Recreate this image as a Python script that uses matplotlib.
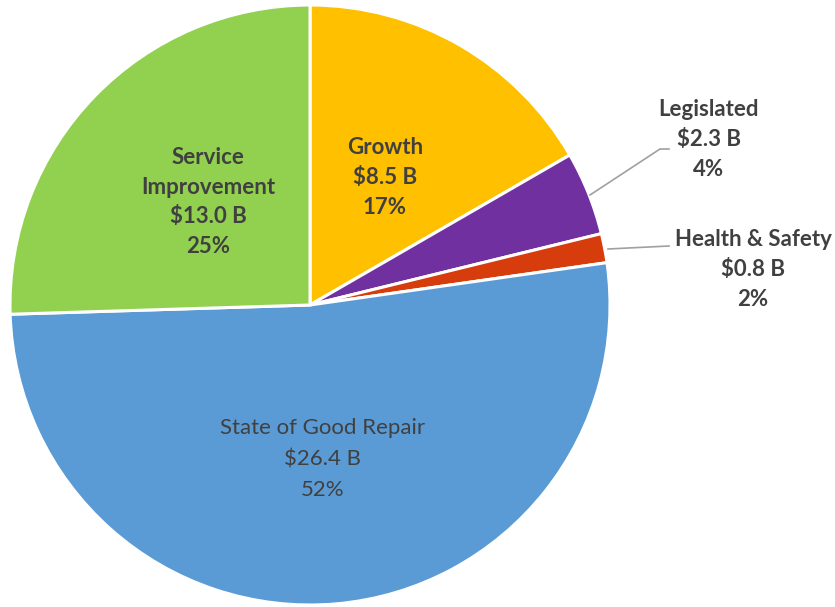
import matplotlib.pyplot as plt

# Capital plan by category (billions of dollars), clockwise from 12 o'clock
categories = ["Growth", "Legislated", "Health & Safety", "State of Good Repair", "Service Improvement"]
amounts = [8.5, 2.3, 0.8, 26.4, 13.0]
amount_labels = ["$8.5 B", "$2.3 B", "$0.8 B", "$26.4 B", "$13.0 B"]
pct_labels = ["17%", "4%", "2%", "52%", "25%"]
colors = ["#FFC000", "#7030A0", "#D63C0C", "#5B9BD5", "#92D050"]

W, H = 835, 607
fig = plt.figure(figsize=(W / 100, H / 100), dpi=100)
ax = fig.add_axes([0, 0, 1, 1])

cx, cy, r = 310, H - 305, 300
ax.pie(amounts, colors=colors, startangle=90, counterclock=False,
       center=(cx, cy), radius=r, frame=True,
       wedgeprops=dict(edgecolor="white", linewidth=2.2))
ax.set_xlim(0, W)
ax.set_ylim(0, H)
ax.set_aspect("equal")
ax.axis("off")

txt = "#404040"
font = "Lato"

# label anchors (pixel coords, y from top), line spacing and weight
label_pos = {
    "Growth": (385, 177, 30, "bold"),
    "Legislated": (709, 139, 30, "bold"),
    "Health & Safety": (753, 270, 30, "bold"),
    "State of Good Repair": (323, 459, 31, "normal"),
    "Service Improvement": (208, 202, 29.5, "bold"),
}

for cat, amt, pct in zip(categories, amount_labels, pct_labels):
    x, y, dy, wt = label_pos[cat]
    lines = ["Service", "Improvement"] if cat == "Service Improvement" else [cat]
    lines = lines + [amt, pct]
    n = len(lines)
    for i, s in enumerate(lines):
        yy = y + (i - (n - 1) / 2) * dy
        ax.text(x, H - yy, s, ha="center", va="center", fontsize=16,
                fontweight=wt, color=txt, family=font)

# leader lines for the small slices
ax.plot([590, 660, 669], [H - 195, H - 149, H - 149], color="#A0A0A0", lw=1.2)
ax.plot([608, 669], [H - 249, H - 246], color="#A0A0A0", lw=1.2)

fig.savefig("out.png", dpi=100)
